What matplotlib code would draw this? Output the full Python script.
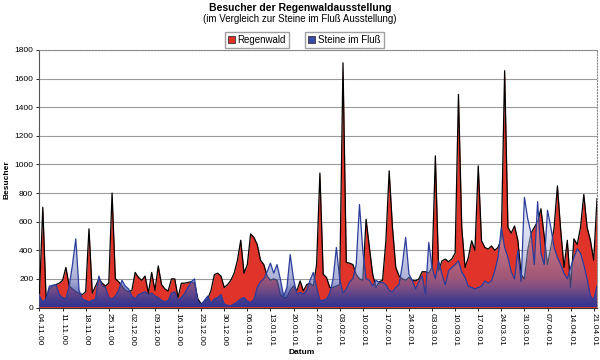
import numpy as np
import matplotlib
matplotlib.use("Agg")
import matplotlib.pyplot as plt
from matplotlib.patches import Patch

plt.rcParams['font.family'] = ['Liberation Sans', 'DejaVu Sans']

title = "Besucher der Regenwaldausstellung"
subtitle = "(im Vergleich zur Steine im Fluß Ausstellung)"
series_names = ["Regenwald", "Steine im Fluß"]

tick_labels = ["04.11.00", "11.11.00", "18.11.00", "25.11.00", "02.12.00", "09.12.00",
               "16.12.00", "23.12.00", "30.12.00", "06.01.01", "13.01.01", "20.01.01",
               "27.01.01", "03.02.01", "10.02.01", "17.02.01", "24.02.01", "03.03.01",
               "10.03.01", "17.03.01", "24.03.01", "31.03.01", "07.04.01", "14.04.01",
               "21.04.01"]

regenwald = [100, 700, 60, 130, 150, 160, 170, 190, 280, 150,
             130, 110, 100, 90, 110, 550, 100, 150, 200, 170,
             150, 170, 800, 200, 180, 150, 120, 110, 120, 245,
             210, 190, 220, 100, 245, 120, 290, 160, 130, 115,
             200, 200, 70, 170, 170, 175, 180, 170, 60, 25,
             40, 60, 120, 230, 240, 220, 140, 160, 190, 240,
             330, 470, 240, 300, 515, 490, 440, 330, 300, 220,
             190, 200, 190, 90, 70, 70, 120, 150, 116, 186,
             116, 160, 170, 150, 300, 940, 233, 210, 140, 140,
             150, 160, 1710, 315, 310, 300, 230, 200, 190, 617,
             420, 233, 140, 180, 190, 466, 955, 560, 280, 220,
             200, 190, 210, 190, 186, 200, 250, 250, 240, 280,
             1060, 256, 326, 338, 320, 340, 380, 1490, 560, 280,
             350, 466, 400, 990, 466, 420, 408, 430, 400, 420,
             480, 1655, 560, 520, 570, 470, 230, 200, 400, 520,
             560, 600, 690, 500, 300, 420, 560, 850, 540, 280,
             470, 140, 480, 440, 560, 790, 560, 470, 330, 760]

steine = [80, 40, 60, 150, 155, 160, 90, 70, 60, 150,
          300, 480, 120, 60, 50, 40, 50, 60, 220, 150,
          140, 70, 60, 80, 120, 190, 150, 130, 80, 60,
          90, 100, 110, 90, 100, 80, 70, 50, 40, 50,
          100, 110, 50, 70, 100, 140, 180, 200, 40, 20,
          50, 80, 30, 60, 70, 90, 25, 15, 12, 25,
          40, 60, 70, 45, 35, 55, 140, 180, 200, 250,
          310, 240, 300, 200, 80, 140, 370, 200, 95, 105,
          95, 120, 190, 245, 140, 50, 50, 60, 100, 200,
          420, 200, 100, 130, 180, 200, 300, 720, 400, 200,
          190, 150, 190, 175, 175, 160, 120, 110, 140, 160,
          300, 490, 233, 190, 128, 180, 221, 93, 455, 280,
          200, 326, 233, 160, 256, 280, 300, 326, 250, 210,
          150, 140, 130, 140, 150, 186, 170, 186, 256, 350,
          560, 420, 350, 250, 200, 400, 180, 770, 620, 520,
          300, 740, 380, 300, 680, 560, 420, 350, 300, 240,
          200, 280, 350, 410, 380, 300, 200, 80, 55, 150]

red_color = '#e0342a'
blue_line = '#2a3c9c'

fig = plt.figure(figsize=(6, 3.6), dpi=100)
ax = fig.add_axes([39.5 / 600, 1 - 307.5 / 360, 557.5 / 600, 257.5 / 360])

x = np.arange(len(regenwald))
ax.fill_between(x, regenwald, color=red_color, lw=0, zorder=2)
ax.plot(x, regenwald, color='black', lw=0.9, zorder=3)

poly = ax.fill_between(x, steine, color='none', lw=0, zorder=3)
ny = 400
vals = np.linspace(0, 1800, ny)
stops_v = [0, 60, 200, 500, 800, 1800]
stops_a = [0.95, 0.85, 0.55, 0.50, 0.50, 0.50]
stops_c = np.array([(0.15, 0.20, 0.60), (0.20, 0.25, 0.62), (0.42, 0.45, 0.72),
                    (0.72, 0.75, 0.88), (0.82, 0.84, 0.92), (0.85, 0.87, 0.93)])
rgb = np.stack([np.interp(vals, stops_v, stops_c[:, i]) for i in range(3)], axis=1)
alpha = np.interp(vals, stops_v, stops_a)[:, None]
arr = np.concatenate([rgb, alpha], axis=1)[:, None, :].repeat(2, axis=1)
img = ax.imshow(arr, extent=[0, len(x) - 1, 0, 1800], origin='lower',
                aspect='auto', zorder=4, interpolation='bilinear')
img.set_clip_path(poly.get_paths()[0], ax.transData)
ax.plot(x, steine, color=blue_line, lw=0.9, zorder=5)

ax.set_xlim(0, len(x) - 1)
ax.set_ylim(0, 1800)
ax.set_yticks(np.arange(0, 1801, 200))
ax.yaxis.grid(True, color='#9a9a9a', lw=0.8, zorder=1)
ax.set_axisbelow(True)
ax.set_xticks(np.arange(0, 7 * len(tick_labels), 7))
ax.set_xticklabels(tick_labels, rotation=-90, fontsize=6)
ax.tick_params(axis='y', labelsize=6, length=2.5, width=0.6, pad=2)
ax.tick_params(axis='x', length=2, width=0.6, pad=2)
for s in ['top', 'right']:
    ax.spines[s].set_color('#888888')
    ax.spines[s].set_linestyle(':')
    ax.spines[s].set_linewidth(0.8)
ax.spines['left'].set_color('#555555')
ax.spines['bottom'].set_color('#333333')
ax.spines['left'].set_linewidth(0.8)
ax.spines['bottom'].set_linewidth(0.8)

fig.text(0.5, 1 - 8 / 360, title, ha='center', va='center', fontsize=7.5, fontweight='bold')
fig.text(0.5, 1 - 19 / 360, subtitle, ha='center', va='center', fontsize=7)
fig.text(7 / 600, 1 - 180 / 360, "Besucher", rotation=90, ha='center', va='center',
         fontsize=6, fontweight='bold')
fig.text(302 / 600, 1 - 353 / 360, "Datum", ha='center', va='center', fontsize=6,
         fontweight='bold')

common = dict(loc='center', frameon=True, fancybox=False, edgecolor='#888888',
              fontsize=7, handlelength=0.7, handleheight=0.7, handletextpad=0.3,
              borderpad=0.3, borderaxespad=0)
fig.legend(handles=[Patch(facecolor=red_color, edgecolor='#333333', lw=0.6)],
           labels=[series_names[0]], bbox_to_anchor=(257 / 600, 1 - 40 / 360), **common)
fig.legend(handles=[Patch(facecolor='#3a4aa8', edgecolor='#333333', lw=0.6)],
           labels=[series_names[1]], bbox_to_anchor=(344.5 / 600, 1 - 40 / 360), **common)

fig.savefig('out.png', dpi=100)
